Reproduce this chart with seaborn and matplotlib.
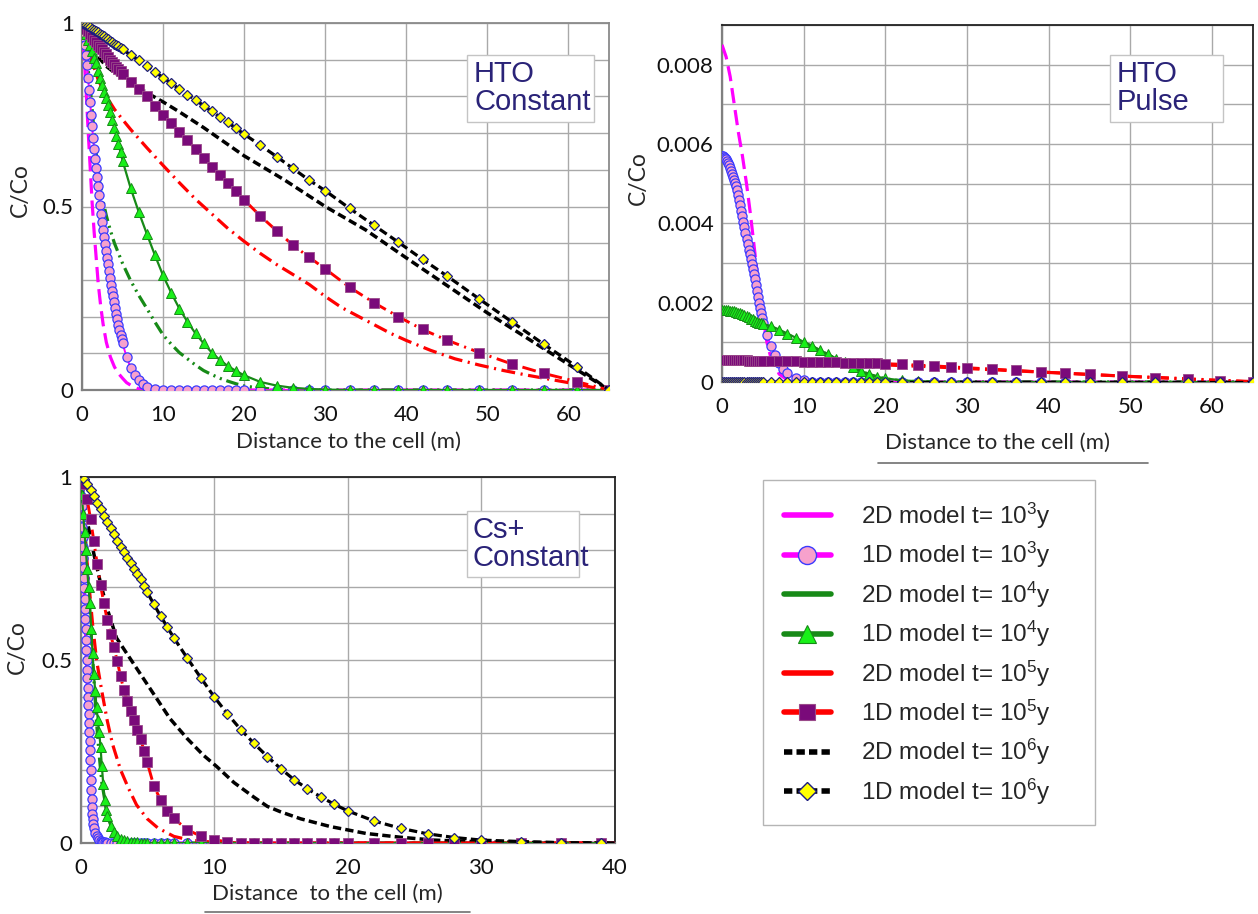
import matplotlib
matplotlib.use("Agg")
import matplotlib.pyplot as plt
from matplotlib.lines import Line2D
from matplotlib.patches import Rectangle
import seaborn as sns

# ---------------------------------------------------------------- data
# sampling points of the 1D model (HTO panels)
x_1d = [0, 0.25, 0.5, 0.75, 1, 1.25, 1.5, 1.75, 2, 2.25, 2.5, 2.75, 3, 3.25, 3.5,
        3.75, 4, 4.25, 4.5, 4.75, 5, 6, 7, 8, 9, 10, 11, 12, 13, 14, 15, 16, 17,
        18, 19, 20, 22, 24, 26, 28, 30, 33, 36, 39, 42, 45, 49, 53, 57, 61, 65]
# finer sampling used for the t=10^3 1D curves
x_1d_fine = [0, 0.125, 0.25, 0.375, 0.5, 0.625, 0.75, 0.875, 1, 1.125, 1.25, 1.375,
             1.5, 1.625, 1.75, 1.875, 2, 2.125, 2.25, 2.375, 2.5, 2.625, 2.75,
             2.875, 3, 3.125, 3.25, 3.375, 3.5, 3.625, 3.75, 3.875, 4, 4.125, 4.25,
             4.375, 4.5, 4.625, 4.75, 4.875, 5, 5.5, 6, 6.5, 7, 7.5, 8, 9, 10, 11,
             12, 13, 14, 15, 16, 17, 18, 19, 20, 22, 24, 26, 28, 30, 33, 36, 39,
             42, 45, 49, 53, 57, 61, 65]

# ---- HTO, constant source
hto_c_2d3_x = [0, 0.25, 0.5, 0.75, 1, 1.25, 1.5, 1.75, 2, 2.3, 2.6, 3, 3.5, 4, 4.5,
               5, 5.5, 6.3, 7, 8, 65]
hto_c_2d3_y = [1, 0.92, 0.82, 0.71, 0.61, 0.51, 0.43, 0.36, 0.29, 0.23, 0.18, 0.13,
               0.09, 0.063, 0.045, 0.032, 0.02, 0.009, 0.003, 0, 0]
hto_c_2d4_x = [0, 0.5, 1, 1.5, 2, 2.5, 3, 3.5, 4, 5, 6, 7, 8, 9, 10, 11, 12, 13, 14,
               15, 16, 17, 18, 19, 20, 22, 24, 26, 65]
hto_c_2d4_y = [1, 0.92, 0.83, 0.7, 0.59, 0.525, 0.475, 0.435, 0.4, 0.345, 0.298,
               0.258, 0.222, 0.185, 0.15, 0.125, 0.102, 0.085, 0.068, 0.053, 0.042,
               0.032, 0.024, 0.017, 0.011, 0.005, 0.002, 0, 0]
hto_c_2d5_x = [0, 1, 2, 3, 4, 5, 6, 8, 10, 12, 14, 16, 18, 20, 22, 24, 26, 28, 30,
               32, 35, 38, 40, 43, 46, 49, 52, 55, 58, 61, 63, 65]
hto_c_2d5_y = [1, 0.91, 0.845, 0.8, 0.765, 0.737, 0.71, 0.66, 0.612, 0.565, 0.52,
               0.48, 0.44, 0.405, 0.372, 0.342, 0.315, 0.288, 0.255, 0.225, 0.19,
               0.155, 0.135, 0.108, 0.085, 0.068, 0.053, 0.04, 0.028, 0.016, 0.007, 0]
hto_c_2d6_x = [0, 1, 2, 3, 4, 6, 8, 10, 12, 15, 20, 25, 30, 35, 40, 45, 50, 55, 60, 65]
hto_c_2d6_y = [1, 0.952, 0.908, 0.882, 0.865, 0.838, 0.81, 0.785, 0.758, 0.715,
               0.638, 0.572, 0.5, 0.436, 0.36, 0.285, 0.21, 0.14, 0.07, 0]
hto_c_1d3_y = [1.0, 0.982, 0.962, 0.94, 0.912, 0.885, 0.85, 0.818, 0.785, 0.75, 0.718,
               0.686, 0.658, 0.63, 0.605, 0.58, 0.555, 0.53, 0.505, 0.48, 0.458,
               0.436, 0.418, 0.398, 0.38, 0.361, 0.342, 0.324, 0.305, 0.287, 0.271,
               0.256, 0.24, 0.224, 0.208, 0.193, 0.178, 0.163, 0.15, 0.138, 0.127,
               0.09, 0.06, 0.041, 0.026, 0.015, 0.009, 0.003, 0, 0, 0, 0, 0, 0, 0,
               0, 0, 0, 0, 0, 0, 0, 0, 0, 0, 0, 0, 0, 0, 0, 0, 0, 0, 0]
hto_c_1d4_y = [1, 0.985, 0.97, 0.955, 0.94, 0.925, 0.905, 0.89, 0.87, 0.85, 0.83,
               0.812, 0.795, 0.777, 0.757, 0.736, 0.715, 0.693, 0.67, 0.648, 0.625,
               0.55, 0.485, 0.425, 0.367, 0.312, 0.265, 0.222, 0.186, 0.154, 0.127,
               0.102, 0.082, 0.065, 0.052, 0.04, 0.022, 0.012, 0.006, 0.003, 0.001,
               0, 0, 0, 0, 0, 0, 0, 0, 0, 0]
hto_c_1d5_y = [1, 0.993, 0.985, 0.978, 0.97, 0.962, 0.955, 0.948, 0.94, 0.935, 0.928,
               0.921, 0.915, 0.908, 0.9, 0.894, 0.888, 0.881, 0.875, 0.868, 0.86,
               0.84, 0.82, 0.8, 0.775, 0.75, 0.727, 0.704, 0.681, 0.656, 0.631,
               0.608, 0.586, 0.564, 0.541, 0.518, 0.474, 0.434, 0.395, 0.362, 0.33,
               0.28, 0.238, 0.2, 0.165, 0.136, 0.102, 0.071, 0.045, 0.023, 0]
hto_c_1d6_y = [1, 0.997, 0.994, 0.991, 0.988, 0.985, 0.982, 0.978, 0.975, 0.971,
               0.968, 0.964, 0.96, 0.956, 0.952, 0.948, 0.944, 0.94, 0.936, 0.932,
               0.928, 0.913, 0.898, 0.883, 0.867, 0.851, 0.836, 0.82, 0.805, 0.79,
               0.775, 0.759, 0.744, 0.729, 0.713, 0.697, 0.667, 0.636, 0.604, 0.572,
               0.543, 0.495, 0.449, 0.403, 0.356, 0.311, 0.248, 0.186, 0.124, 0.064, 0]

# ---- HTO, pulse source
hto_p_2d3_x = [0, 0.5, 1, 1.5, 2, 2.5, 3, 3.5, 4, 4.5, 5, 5.5, 6, 7, 8, 9, 65]
hto_p_2d3_y = [0.0085, 0.0082, 0.0077, 0.0070, 0.0063, 0.0057, 0.0050, 0.0042,
               0.0033, 0.0024, 0.0016, 0.0010, 0.0006, 0.0002, 0.00005, 0, 0]
hto_p_2d4_x = [0, 2, 4, 6, 8, 10, 12, 14, 16, 18, 20, 22, 24, 26, 65]
hto_p_2d4_y = [0.00178, 0.00172, 0.00153, 0.00138, 0.0012, 0.00099, 0.00079,
               0.00058, 0.00037, 0.00019, 0.00008, 0.00003, 0.00001, 0, 0]
hto_p_2d5_x = [0, 5, 10, 15, 20, 25, 30, 35, 40, 45, 50, 55, 60, 65]
hto_p_2d5_y = [0.00052, 0.00051, 0.00049, 0.00046, 0.00043, 0.00039, 0.00034,
               0.00029, 0.00024, 0.00019, 0.00014, 0.0001, 0.00005, 0.00001]
hto_p_2d6_x = [0, 65]
hto_p_2d6_y = [0, 0]
hto_p_1d3_y = [0.0057, 0.00569, 0.00567, 0.00565, 0.00562, 0.00558, 0.00553,
               0.00547, 0.0054, 0.00533, 0.00525, 0.00518, 0.0051, 0.00502, 0.00494,
               0.00484, 0.00472, 0.00459, 0.00445, 0.00432, 0.00418, 0.00404,
               0.0039, 0.00375, 0.0036, 0.00347, 0.00334, 0.00322, 0.0031, 0.00297,
               0.00285, 0.00272, 0.0026, 0.00245, 0.0023, 0.00215, 0.002, 0.00187,
               0.00175, 0.00162, 0.0015, 0.00118, 0.0009, 0.00068, 0.00048,
               0.00033, 0.00022, 0.0001, 0.00004, 0, 0, 0, 0, 0, 0, 0, 0, 0, 0, 0,
               0, 0, 0, 0, 0, 0, 0, 0, 0, 0, 0, 0, 0, 0]
hto_p_1d4_y = [0.00182, 0.00182, 0.00181, 0.00181, 0.0018, 0.00179, 0.00178,
               0.00177, 0.00175, 0.00173, 0.00171, 0.00169, 0.00166, 0.00163,
               0.0016, 0.00158, 0.00155, 0.00152, 0.0015, 0.00148, 0.00146,
               0.00141, 0.00132, 0.00122, 0.00112, 0.00101, 0.00092, 0.0008,
               0.0007, 0.00059, 0.0005, 0.00038, 0.00027, 0.0002, 0.00013,
               0.00009, 0.00004, 0.00002, 0, 0, 0, 0, 0, 0, 0, 0, 0, 0, 0, 0, 0]
hto_p_1d5_y = [0.00055, 0.00055, 0.00055, 0.00055, 0.00055, 0.000548, 0.000548,
               0.000546, 0.000546, 0.000545, 0.000545, 0.000544, 0.000543,
               0.000542, 0.000541, 0.00054, 0.00054, 0.000539, 0.000538, 0.000537,
               0.000536, 0.000532, 0.000528, 0.000524, 0.00052, 0.000515, 0.00051,
               0.000505, 0.0005, 0.000495, 0.00049, 0.000485, 0.00048, 0.000475,
               0.00047, 0.000462, 0.000445, 0.000425, 0.000405, 0.000382, 0.00036,
               0.000325, 0.00029, 0.000255, 0.000222, 0.00019, 0.00015, 0.00011,
               0.000072, 0.000036, 0.000005]
hto_p_1d6_y = [0, 0, 0, 0, 0, 0, 0, 0, 0, 0, 0, 0, 0, 0, 0, 0, 0, 0, 0, 0, 0, 0, 0,
               0, 0, 0, 0, 0, 0, 0, 0, 0, 0, 0, 0, 0, 0, 0, 0, 0, 0, 0, 0, 0, 0, 0,
               0, 0, 0, 0, 0]

# ---- Cs+, constant source
x_cs = [0, 0.25, 0.5, 0.75, 1, 1.25, 1.5, 1.75, 2, 2.25, 2.5, 2.75, 3, 3.25, 3.5,
        3.75, 4, 4.25, 4.5, 4.75, 5, 5.5, 6, 6.5, 7, 8, 9, 10, 11, 12, 13, 14, 15,
        16, 17, 18, 19, 20, 22, 24, 26, 28, 30, 33, 36, 39]
cs_1d3_x = [0, 0.025, 0.05, 0.075, 0.1, 0.125, 0.15, 0.175, 0.2, 0.225, 0.25, 0.275,
            0.3, 0.325, 0.35, 0.375, 0.4, 0.425, 0.45, 0.475, 0.5, 0.525, 0.55,
            0.575, 0.6, 0.625, 0.65, 0.675, 0.7, 0.725, 0.75, 0.775, 0.8, 0.825,
            0.85, 0.875, 0.9, 0.95, 1.0, 1.1, 1.2, 1.3, 1.4, 1.5, 1.6, 1.7, 1.8,
            1.9, 2.0, 2.25, 2.5, 2.75, 3, 3.25, 3.5, 3.75, 4, 4.25, 4.5, 4.75, 5,
            5.5, 6, 6.5, 7, 8, 9, 10, 11, 12, 13, 14, 15, 16, 17, 18, 19, 20, 22,
            24, 26, 28, 30, 33, 36, 39]
cs_1d3_y = [1.0, 0.975, 0.948, 0.92, 0.892, 0.864, 0.836, 0.808, 0.78, 0.752, 0.724,
            0.696, 0.668, 0.64, 0.612, 0.584, 0.556, 0.528, 0.5, 0.474, 0.45, 0.424,
            0.4, 0.376, 0.352, 0.328, 0.304, 0.28, 0.254, 0.228, 0.2, 0.172, 0.146,
            0.12, 0.098, 0.08, 0.066, 0.052, 0.042, 0.028, 0.019, 0.013, 0.009,
            0.006, 0.004, 0.003, 0.002, 0.001, 0, 0, 0, 0, 0, 0, 0, 0, 0, 0, 0, 0,
            0, 0, 0, 0, 0, 0, 0, 0, 0, 0, 0, 0, 0, 0, 0, 0, 0, 0, 0, 0, 0, 0, 0,
            0, 0, 0]
cs_1d4_x = [0, 0.1, 0.2, 0.3, 0.4, 0.5, 0.6, 0.7, 0.8, 0.9, 1.0, 1.1, 1.2, 1.3, 1.4,
            1.5, 1.6, 1.7, 1.8, 1.9, 2.0, 2.25, 2.5, 2.75, 3, 3.25, 3.5, 3.75, 4,
            4.25, 4.5, 4.75, 5, 5.5, 6, 6.5, 7, 8, 9, 10, 11, 12, 13, 14, 15, 16,
            17, 18, 19, 20, 22, 24, 26, 28, 30, 33, 36, 39]
cs_1d4_y = [1, 0.95, 0.9, 0.85, 0.8, 0.75, 0.7, 0.655, 0.585, 0.52, 0.462, 0.415,
            0.372, 0.336, 0.304, 0.262, 0.21, 0.162, 0.118, 0.09, 0.074, 0.046,
            0.029, 0.019, 0.012, 0.008, 0.005, 0.004, 0.003, 0.002, 0.001, 0.001,
            0, 0, 0, 0, 0, 0, 0, 0, 0, 0, 0, 0, 0, 0, 0, 0, 0, 0, 0, 0, 0, 0, 0,
            0, 0, 0]
cs_1d5_y = [1, 0.98, 0.94, 0.885, 0.825, 0.762, 0.705, 0.655, 0.61, 0.57, 0.535,
            0.498, 0.455, 0.418, 0.388, 0.36, 0.335, 0.31, 0.285, 0.252, 0.22,
            0.155, 0.118, 0.088, 0.067, 0.036, 0.019, 0.009, 0.003, 0.001, 0, 0,
            0, 0, 0, 0, 0, 0, 0, 0, 0, 0, 0, 0, 0, 0]
cs_1d6_y = [1, 0.995, 0.982, 0.965, 0.948, 0.93, 0.912, 0.894, 0.877, 0.86, 0.843,
            0.826, 0.81, 0.795, 0.78, 0.765, 0.75, 0.735, 0.72, 0.703, 0.685,
            0.652, 0.62, 0.59, 0.56, 0.505, 0.452, 0.4, 0.353, 0.31, 0.272, 0.236,
            0.203, 0.173, 0.148, 0.126, 0.106, 0.088, 0.06, 0.04, 0.025, 0.015,
            0.008, 0.004, 0.001, 0]
cs_2d3_x = [0, 0.2, 0.4, 0.6, 0.8, 0.9, 1.0, 1.2, 1.5, 2, 40]
cs_2d3_y = [1, 0.77, 0.54, 0.34, 0.14, 0.06, 0.035, 0.015, 0.004, 0, 0]
cs_2d4_x = [0, 0.2, 0.4, 0.6, 0.8, 1.0, 1.2, 1.4, 1.6, 1.9, 2.2, 2.7, 3.2, 4, 5, 40]
cs_2d4_y = [1, 0.93, 0.82, 0.69, 0.57, 0.45, 0.33, 0.24, 0.165, 0.1, 0.058, 0.02,
            0.008, 0.002, 0, 0]
cs_2d5_x = [0, 0.3, 0.6, 0.9, 1.2, 1.6, 2, 2.4, 3, 3.6, 4.2, 5, 5.8, 7, 8.2, 10, 12, 40]
cs_2d5_y = [1, 0.85, 0.72, 0.6, 0.5, 0.414, 0.335, 0.27, 0.2, 0.149, 0.104, 0.066,
            0.041, 0.018, 0.008, 0.002, 0, 0]
cs_2d6_x = [0, 0.5, 1, 1.5, 2, 2.7, 3.7, 4.7, 5.7, 6.7, 8, 9.2, 10.2, 11.5, 13, 14,
            15, 16.5, 18.7, 21.4, 23.9, 26.4, 30, 35, 40]
cs_2d6_y = [1, 0.88, 0.79, 0.71, 0.64, 0.56, 0.505, 0.45, 0.395, 0.34, 0.285, 0.24,
            0.209, 0.165, 0.125, 0.1, 0.085, 0.066, 0.045, 0.026, 0.016, 0.008,
            0.003, 0.001, 0]

legend_labels = ["2D model t= 10$^{\\mathrm{3}}$y", "1D model t= 10$^{\\mathrm{3}}$y",
                 "2D model t= 10$^{\\mathrm{4}}$y", "1D model t= 10$^{\\mathrm{4}}$y",
                 "2D model t= 10$^{\\mathrm{5}}$y", "1D model t= 10$^{\\mathrm{5}}$y",
                 "2D model t= 10$^{\\mathrm{6}}$y", "1D model t= 10$^{\\mathrm{6}}$y"]
panel_titles = ["HTO\nConstant", "HTO\nPulse", "Cs+\nConstant"]
x_label_text = "Distance to the cell (m)"
x_label_text_cs = "Distance  to the cell (m)"
y_label_text = "C/Co"

# ---------------------------------------------------------------- styles
sns.set_style("white")
plt.rcParams["font.family"] = ["Lato", "DejaVu Sans"]
plt.rcParams["mathtext.fontset"] = "custom"
plt.rcParams["mathtext.rm"] = "Liberation Sans"
plt.rcParams["mathtext.it"] = "Liberation Sans:italic"
plt.rcParams["lines.scale_dashes"] = False

MAG, PINK, BLUE = "#ff00ff", "#f7a1cc", "#3a3aff"
DGREEN, LIME = "#178a17", "#19f019"
RED, PURPLE, PEDGE = "#ff0000", "#7a0a7a", "#9a4a8a"
BLACK, YELLOW, NAVY = "#000000", "#ffff00", "#1c1c80"

style_2d = {
    3: dict(color=MAG, linewidth=2.3, linestyle=(0, (11, 5))),
    4: dict(color=DGREEN, linewidth=2.3, linestyle=(0, (9, 3.5, 1.5, 3.5, 1.5, 3.5))),
    5: dict(color=RED, linewidth=2.3, linestyle=(0, (10, 4, 1.5, 4))),
    6: dict(color=BLACK, linewidth=2.5, linestyle=(0, (6, 3))),
}
style_1d = {
    3: dict(color=MAG, linewidth=1.4, linestyle="-", marker="o", markersize=6.6,
            markerfacecolor=PINK, markeredgecolor=BLUE, markeredgewidth=0.9),
    4: dict(color=DGREEN, linewidth=1.6, linestyle="-", marker="^", markersize=7.8,
            markerfacecolor=LIME, markeredgecolor=DGREEN, markeredgewidth=0.7),
    5: dict(color=RED, linewidth=2.1, linestyle=(0, (10, 4, 1.5, 4)), marker="s",
            markersize=7.0, markerfacecolor=PURPLE, markeredgecolor=PEDGE,
            markeredgewidth=0.6),
    6: dict(color=BLACK, linewidth=2.3, linestyle=(0, (6, 3)), marker="D",
            markersize=5.4, markerfacecolor=YELLOW, markeredgecolor=NAVY,
            markeredgewidth=0.9),
}


def draw_series(ax, lines_2d, lines_1d):
    for k, (xs, ys) in lines_2d.items():
        sns.lineplot(x=xs, y=ys, ax=ax, estimator=None, sort=False, zorder=3,
                     **style_2d[k])
    for k, (xs, ys) in lines_1d.items():
        sns.lineplot(x=xs, y=ys, ax=ax, estimator=None, sort=False, zorder=4 + k,
                     **style_1d[k])


def dress(ax, xmax, ymax, yticks, ylabels, xticks, edge_dark):
    ax.set_xlim(0, xmax)
    ax.set_ylim(0, ymax)
    ax.set_xticks(xticks)
    ax.set_xticklabels([str(t) for t in xticks])
    ax.set_yticks(yticks)
    ax.set_yticklabels(ylabels)
    ax.grid(True, color="#a9a9a9", linewidth=1.0)
    ax.set_axisbelow(True)
    ax.tick_params(length=0, labelsize=16, colors="#111111")
    ax.tick_params(axis="x", pad=11)
    ax.tick_params(axis="y", pad=6)
    for side in ("left", "bottom"):
        ax.spines[side].set_color("#808080")
        ax.spines[side].set_linewidth(1.6)
    for side in ("top", "right"):
        ax.spines[side].set_color("#222222" if edge_dark else "#8a8a8a")
        ax.spines[side].set_linewidth(1.3)


def box_px(fig, px_box, edge, z):
    # px_box: (left, top, right, bottom) in figure pixels
    W, H = fig.get_size_inches() * fig.dpi
    l, t, r, b = px_box
    fig.patches.append(Rectangle((l / W, 1 - b / H), (r - l) / W, (b - t) / H,
                                 transform=fig.transFigure, facecolor="white",
                                 edgecolor=edge, linewidth=1.0, zorder=z))


def tag(fig, text, px_box, px_text):
    W, H = fig.get_size_inches() * fig.dpi
    box_px(fig, px_box, "#c4c4c4", 20)
    fig.text(px_text[0] / W, 1 - px_text[1] / H, text, ha="left", va="center",
             fontsize=21, color="#2a2378", family=["Liberation Sans"],
             linespacing=1.0, zorder=21)


fig = plt.figure(figsize=(12.58, 9.14), dpi=100)
W, H = 1258, 914


def add_axes(l, t, r, b):
    return fig.add_axes([l / W, 1 - b / H, (r - l) / W, (b - t) / H])


ax1 = add_axes(82, 23, 609, 390)
ax2 = add_axes(722, 25, 1253, 382)
ax3 = add_axes(80.5, 477, 614.5, 843)

# ---- HTO constant
draw_series(ax1,
            {3: (hto_c_2d3_x, hto_c_2d3_y), 4: (hto_c_2d4_x, hto_c_2d4_y),
             5: (hto_c_2d5_x, hto_c_2d5_y), 6: (hto_c_2d6_x, hto_c_2d6_y)},
            {3: (x_1d_fine, hto_c_1d3_y), 4: (x_1d, hto_c_1d4_y),
             5: (x_1d, hto_c_1d5_y), 6: (x_1d, hto_c_1d6_y)})
y01 = [0, 0.1, 0.2, 0.3, 0.4, 0.5, 0.6, 0.7, 0.8, 0.9, 1.0]
y01_labels = ["0", "", "", "", "", "0.5", "", "", "", "", "1"]
dress(ax1, 65, 1.0, y01, y01_labels, [0, 10, 20, 30, 40, 50, 60], False)

# ---- HTO pulse
draw_series(ax2,
            {3: (hto_p_2d3_x, hto_p_2d3_y), 4: (hto_p_2d4_x, hto_p_2d4_y),
             5: (hto_p_2d5_x, hto_p_2d5_y), 6: (hto_p_2d6_x, hto_p_2d6_y)},
            {3: (x_1d_fine, hto_p_1d3_y), 4: (x_1d, hto_p_1d4_y),
             5: (x_1d, hto_p_1d5_y), 6: (x_1d, hto_p_1d6_y)})
yp = [0, 0.001, 0.002, 0.003, 0.004, 0.005, 0.006, 0.007, 0.008, 0.009]
yp_labels = ["0", "", "0.002", "", "0.004", "", "0.006", "", "0.008", ""]
dress(ax2, 65, 0.009, yp, yp_labels, [0, 10, 20, 30, 40, 50, 60], True)

# ---- Cs+ constant
draw_series(ax3,
            {3: (cs_2d3_x, cs_2d3_y), 4: (cs_2d4_x, cs_2d4_y),
             5: (cs_2d5_x, cs_2d5_y), 6: (cs_2d6_x, cs_2d6_y)},
            {3: (cs_1d3_x, cs_1d3_y), 4: (cs_1d4_x, cs_1d4_y),
             5: (x_cs, cs_1d5_y), 6: (x_cs, cs_1d6_y)})
dress(ax3, 40, 1.0, y01, y01_labels, [0, 10, 20, 30, 40], True)

# axis titles
for ax, xl, xpos, ypos_x, ylx, yly in (
        (ax1, x_label_text, 0.505, -0.113, -0.097, 0.545),
        (ax2, x_label_text, 0.518, -0.143, -0.138, 0.571),
        (ax3, x_label_text_cs, 0.462, -0.113, -0.098, 0.535)):
    ax.set_xlabel(xl, fontsize=16)
    ax.set_ylabel(y_label_text, fontsize=16.5)
    ax.xaxis.set_label_coords(xpos, ypos_x)
    ax.yaxis.set_label_coords(ylx, yly)

# panel tags
tag(fig, panel_titles[0], (467, 55, 594, 122), (474, 88))
tag(fig, panel_titles[1], (1110, 55, 1223, 122), (1117, 88))
tag(fig, panel_titles[2], (467, 511, 579, 577), (473, 544))

# rules under two of the axis titles
fig.add_artist(Line2D([878 / W, 1148 / W], [1 - 463 / H, 1 - 463 / H],
                      color="#707070", linewidth=1.2))
fig.add_artist(Line2D([205 / W, 470 / W], [1 - 912 / H, 1 - 912 / H],
                      color="#707070", linewidth=1.2))

# legend, inside its own frame
box_px(fig, (763, 480, 1095, 825), "#b5b5b5", 1)
handles = [
    Line2D([], [], color=MAG, linewidth=4),
    Line2D([], [], color=MAG, linewidth=4, marker="o", markersize=13,
           markerfacecolor=PINK, markeredgecolor=BLUE, markeredgewidth=1.0),
    Line2D([], [], color=DGREEN, linewidth=4),
    Line2D([], [], color=DGREEN, linewidth=4, marker="^", markersize=13,
           markerfacecolor=LIME, markeredgecolor=DGREEN, markeredgewidth=0.8),
    Line2D([], [], color=RED, linewidth=4),
    Line2D([], [], color=RED, linewidth=4, marker="s", markersize=12,
           markerfacecolor=PURPLE, markeredgecolor=PEDGE, markeredgewidth=0.8),
    Line2D([], [], color=BLACK, linewidth=4, linestyle=(0, (6, 3))),
    Line2D([], [], color=BLACK, linewidth=4, linestyle=(0, (6, 3)), marker="D",
           markersize=9, markerfacecolor=YELLOW, markeredgecolor=NAVY,
           markeredgewidth=1.0),
]
leg = fig.legend(handles, legend_labels, loc="upper left",
                 bbox_to_anchor=(763 / W, 1 - 480 / H), frameon=False,
                 prop={"family": "Liberation Sans", "size": 17.5},
                 handlelength=1.95, handletextpad=1.25, labelspacing=0.38,
                 borderpad=0.85, borderaxespad=0)
leg.set_zorder(5)

fig.savefig("out.png", dpi=100)
